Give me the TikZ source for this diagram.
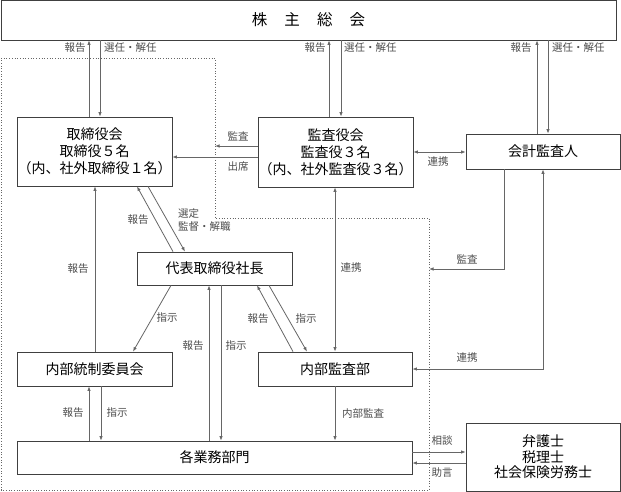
\documentclass[tikz,border=0pt]{standalone}
\usepackage{fontspec}
\setmainfont{Noto Sans CJK JP}
\usetikzlibrary{arrows.meta,calc}

\tikzset{
    box/.style={draw=black!75, line width=0.8pt, inner sep=0pt, align=center,
        font=\fontsize{14}{17}\selectfont},
    lab/.style={inner sep=1pt, text=black!70, font=\fontsize{10.5}{12}\selectfont},
    conn/.style={draw=black!60, line width=0.8pt, -{Latex[length=4.5pt,width=3.5pt]}},
    conn2/.style={conn, {Latex[length=4.5pt,width=3.5pt]}-{Latex[length=4.5pt,width=3.5pt]}},
}

\begin{document}
\begin{tikzpicture}[x=1pt,y=-1pt]
    \useasboundingbox (0,0) rectangle (621,492);
    \draw[dotted, black!60, line width=0.7pt] (1,58) -- (215,58) -- (215,218)
        -- (429,218) -- (429,490) -- (1,490) -- cycle;

    \node[box, minimum width=615, minimum height=40, font=\fontsize{15.5}{17}\selectfont]
        at (308.5,20) (GM) {株\hspace{1.1em}主\hspace{1.1em}総\hspace{1.1em}会};
    \node[box, minimum width=155, minimum height=69] at (94.5,151.5) (BD)
        {取締役会\\取締役５名\\（内、社外取締役１名）};
    \node[box, minimum width=155, minimum height=70] at (335.5,152) (AB)
        {監査役会\\監査役３名\\（内、社外監査役３名）};
    \node[box, minimum width=154, minimum height=35] at (543,151.5) (AU) {会計監査人};
    \node[box, minimum width=155, minimum height=33] at (214.5,268.5) (PR) {代表取締役社長};
    \node[box, minimum width=155, minimum height=34] at (94.5,369) (IC) {内部統制委員会};
    \node[box, minimum width=154, minimum height=34] at (335,369) (IA) {内部監査部};
    \node[box, minimum width=395, minimum height=33] at (214.5,457.5) (DP) {各業務部門};
    \node[box, minimum width=154, minimum height=68, font=\fontsize{14}{15.5}\selectfont]
        at (543,457) (EX) {弁護士\\税理士\\社会保険労務士};

    % 株主総会
    \draw[conn] (89,0 |- BD.north) -- (89,0 |- GM.south);
    \draw[conn] (100,0 |- GM.south) -- (100,0 |- BD.north);
    \draw[conn] (329,0 |- AB.north) -- (329,0 |- GM.south);
    \draw[conn] (341,0 |- GM.south) -- (341,0 |- AB.north);
    \draw[conn] (537,0 |- AU.north) -- (537,0 |- GM.south);
    \draw[conn] (548,0 |- GM.south) -- (548,0 |- AU.north);
    \node[lab] at (75,48) (L1) {報告};
    \node[lab, anchor=west] at (103,48) (L2) {選任・解任};
    \node[lab] at (315,48) (L3) {報告};
    \node[lab, anchor=west] at (343,48) (L4) {選任・解任};
    \node[lab] at (521,48) (L5) {報告};
    \node[lab, anchor=west] at (551,48) (L6) {選任・解任};

    % 監査役会
    \coordinate (F1) at (215,146);
    \draw[conn] (AB.west |- F1) -- (F1);
    \draw[conn] (AB.west |- 0,157) -- (BD.east |- 0,157);
    \node[lab] at (238,136) (L7) {監査};
    \node[lab] at (238,167) (L8) {出席};
    \draw[conn2] (AB.east) -- (AB.east -| AU.west);
    \node[lab] at (438,162) (L9) {連携};

    % 取締役会 - 代表取締役社長
    \draw[conn] (173,0 |- PR.north) -- (137,0 |- BD.south);
    \draw[conn] (148,0 |- BD.south) -- (185,0 |- PR.north);
    \node[lab] at (138,220) (L10) {報告};
    \node[lab, anchor=west, align=left, font=\fontsize{10.5}{12.5}\selectfont]
        at (177,220) (L11) {選定\\監督・解職};
    \draw[conn] (95,0 |- IC.north) -- (95,0 |- BD.south);
    \node[lab] at (78,269) (L12) {報告};

    % 代表取締役社長
    \draw[conn] (171,0 |- PR.south) -- (133,0 |- IC.north);
    \node[lab] at (167,318) (L13) {指示};
    \draw[conn] (209,0 |- DP.north) -- (209,0 |- PR.south);
    \draw[conn] (221,0 |- PR.south) -- (221,0 |- DP.north);
    \node[lab] at (193,346) (L14) {報告};
    \node[lab] at (236,346) (L15) {指示};
    \draw[conn] (293,0 |- IA.north) -- (257,0 |- PR.south);
    \draw[conn] (269,0 |- PR.south) -- (307,0 |- IA.north);
    \node[lab] at (258,319) (L16) {報告};
    \node[lab] at (306,319) (L17) {指示};

    % 内部監査部
    \draw[conn2] (335,0 |- AB.south) -- (335,0 |- IA.north);
    \node[lab] at (351,268) (L18) {連携};
    \coordinate (F2) at (429,269);
    \draw[conn] (504,0 |- AU.south) |- (F2);
    \node[lab] at (467,259) (L19) {監査};
    \draw[conn2] (AU.south) |- (IA.east);
    \node[lab] at (467,358) (L20) {連携};
    \draw[conn] (IA.south) -- (IA.south |- DP.north);
    \node[lab] at (363,414) (L21) {内部監査};

    % 各業務部門
    \draw[conn] (89,0 |- DP.north) -- (89,0 |- IC.south);
    \draw[conn] (101,0 |- IC.south) -- (101,0 |- DP.north);
    \node[lab] at (73,413) (L22) {報告};
    \node[lab] at (117,413) (L23) {指示};
    \draw[conn] (DP.east |- 0,452) -- (EX.west |- 0,452);
    \draw[conn] (EX.west |- 0,463) -- (DP.east |- 0,463);
    \node[lab] at (442,441) (L24) {相談};
    \node[lab] at (442,473) (L25) {助言};
\end{tikzpicture}
\end{document}
